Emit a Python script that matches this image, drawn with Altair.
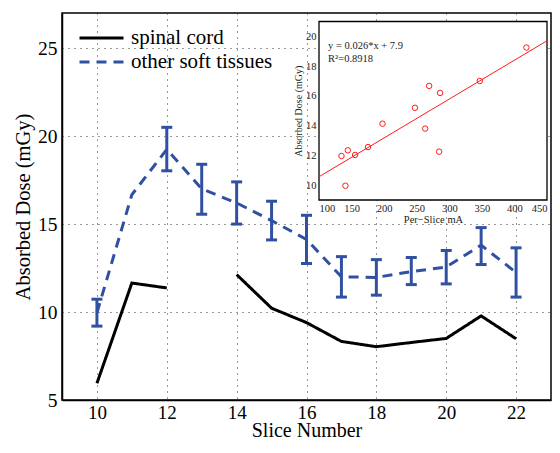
import altair as alt
import pandas as pd

# ---------------- data ----------------
slices = list(range(10, 23))
spinal_cord = [5.95, 11.65, 11.37, None, 12.13, 10.22, 9.40, 8.33, 8.03, 8.27, 8.50, 9.78, 8.48]
soft_tissue = [9.96, 16.67, 19.25, 17.00, 16.20, 15.20, 14.13, 12.00, 11.97, 12.30, 12.56, 13.80, 12.25]

err_slices = [10, 12, 13, 14, 15, 16, 17, 18, 19, 20, 21, 22]
err_low = [9.20, 18.03, 15.56, 15.00, 14.10, 12.76, 10.85, 10.96, 11.56, 11.60, 12.70, 10.85]
err_high = [10.73, 20.50, 18.40, 17.40, 16.30, 15.50, 13.15, 12.98, 13.10, 13.50, 14.80, 13.65]

series_names = ["spinal cord", "other soft tissues"]
series_colors = ["#000000", "#3050a2"]

inset_ma = [134.5, 140.6, 144.2, 155.4, 175.2, 197.5, 247.3, 263.0, 269.1, 284.4, 285.9, 346.8, 418.4]
inset_dose = [11.96, 9.96, 12.34, 12.03, 12.56, 14.13, 15.20, 13.80, 16.67, 12.25, 16.20, 17.00, 19.25]
fit_labels = ["y = 0.026*x + 7.9", "R²=0.8918"]
fit_label_ma = [114, 114]
fit_label_dose = [19.35, 18.45]

x_ticks = [10, 12, 14, 16, 18, 20, 22]
y_ticks = [5, 10, 15, 20, 25]
x_domain = [9, 23]
y_domain = [5, 27]
inset_x_ticks = [100, 150, 200, 250, 300, 350, 400, 450]
inset_y_ticks = [10, 12, 14, 16, 18, 20]
inset_x_domain = [100, 450]
inset_y_domain = [9, 21]

# ---------------- tables ----------------
lines_df = pd.DataFrame(
    {
        "slice": slices * 2,
        "dose": spinal_cord + soft_tissue,
        "series": [series_names[0]] * len(slices) + [series_names[1]] * len(slices),
    }
)
err_df = pd.DataFrame({"slice": err_slices, "lo": err_low, "hi": err_high})
inset_df = pd.DataFrame({"ma": inset_ma, "dose": inset_dose})
frame_df = pd.DataFrame(
    {"x0": [inset_x_domain[0]], "x1": [inset_x_domain[1]], "y0": [inset_y_domain[0]], "y1": [inset_y_domain[1]]}
)
label_df = pd.DataFrame({"ma": fit_label_ma, "dose": fit_label_dose, "txt": fit_labels})

FONT = "Liberation Serif, Times New Roman, serif"
PAD_L, PAD_T, PAD_R, PAD_B = 54, 5, 1, 41
W, H = 489, 387
BLUE = series_colors[1]

# ---------------- main axes ----------------
main_x_axis = alt.Axis(
    values=x_ticks, title="Slice Number", grid=True, gridDash=[1, 5], gridColor="#333",
    gridWidth=1, ticks=False, domainColor="black", domainWidth=1.5,
    labelFont=FONT, labelFontSize=19, labelColor="black", labelPadding=3,
    titleFont=FONT, titleFontSize=20, titleFontWeight="normal", titleColor="black",
    titleBaseline="alphabetic", titleY=36,
)
main_y_axis = alt.Axis(
    values=y_ticks, title="Absorbed Dose (mGy)", grid=True, gridDash=[1, 5], gridColor="#333",
    gridWidth=1, ticks=False, domainColor="black", domainWidth=1.5,
    labelFont=FONT, labelFontSize=19.5, labelColor="black", labelPadding=5,
    titleFont=FONT, titleFontSize=20.5, titleFontWeight="normal", titleColor="black", titlePadding=4,
)
main_xs = alt.Scale(domain=x_domain, nice=False, zero=False)
main_ys = alt.Scale(domain=y_domain, nice=False, zero=False)

legend = alt.Legend(
    orient="none", legendX=16, legendY=15, symbolType="stroke", symbolSize=1936,
    symbolStrokeWidth=3, labelFont=FONT, labelFontSize=21, labelColor="black",
    labelOffset=6, rowPadding=3, clipHeight=20, title=None,
)

lines = alt.Chart(lines_df).mark_line(strokeWidth=3).encode(
    x=alt.X("slice:Q", scale=main_xs, axis=main_x_axis),
    y=alt.Y("dose:Q", scale=main_ys, axis=main_y_axis),
    color=alt.Color("series:N", scale=alt.Scale(domain=series_names, range=series_colors), legend=legend),
    strokeDash=alt.StrokeDash(
        "series:N", scale=alt.Scale(domain=series_names, range=[[1, 0], [10, 7]]), legend=legend
    ),
)

err_rule = alt.Chart(err_df).mark_rule(color=BLUE, strokeWidth=3).encode(
    x=alt.X("slice:Q", scale=main_xs, axis=main_x_axis),
    y=alt.Y("lo:Q", scale=main_ys, axis=main_y_axis),
    y2="hi:Q",
)
cap_lo = alt.Chart(err_df).mark_tick(color=BLUE, orient="horizontal", size=11, thickness=3, opacity=1).encode(
    x=alt.X("slice:Q", scale=main_xs, axis=main_x_axis),
    y=alt.Y("lo:Q", scale=main_ys, axis=main_y_axis),
)
cap_hi = alt.Chart(err_df).mark_tick(color=BLUE, orient="horizontal", size=11, thickness=3, opacity=1).encode(
    x=alt.X("slice:Q", scale=main_xs, axis=main_x_axis),
    y=alt.Y("hi:Q", scale=main_ys, axis=main_y_axis),
)

main = alt.layer(lines, err_rule, cap_lo, cap_hi)

# ---------------- inset ----------------
IX0, IX1 = 257.0, 485.0
IY_BOTTOM, IY_TOP = 187.0, 8.5

inset_x_axis = alt.Axis(
    orient="bottom", offset=-(H - IY_BOTTOM), values=inset_x_ticks, title="Per−Slice mA",
    grid=False, ticks=False, domain=False, zindex=2,
    labelFont=FONT, labelFontSize=10.5, labelColor="#222", labelPadding=3,
    titleFont=FONT, titleFontSize=10.5, titleFontWeight="normal", titleColor="#222", titlePadding=1,
)
inset_y_axis = alt.Axis(
    orient="left", offset=-IX0, values=inset_y_ticks, title="Absorbed Dose (mGy)",
    grid=False, ticks=False, domain=False, zindex=2,
    labelFont=FONT, labelFontSize=10.5, labelColor="#222", labelPadding=3,
    titleFont=FONT, titleFontSize=10, titleFontWeight="normal", titleColor="#222", titlePadding=2,
)
ixs = alt.Scale(domain=inset_x_domain, range=[IX0, IX1], nice=False, zero=False)
iys = alt.Scale(domain=inset_y_domain, range=[IY_BOTTOM, IY_TOP], nice=False, zero=False)

frame = alt.Chart(frame_df).mark_rect(fill="white", stroke="black", strokeWidth=1.3).encode(
    x=alt.X("x0:Q", scale=ixs, axis=inset_x_axis),
    x2="x1:Q",
    y=alt.Y("y0:Q", scale=iys, axis=inset_y_axis),
    y2="y1:Q",
)
fit = alt.Chart(inset_df).transform_regression(
    "ma", "dose", extent=inset_x_domain
).mark_line(color="#ff1a1a", strokeWidth=1).encode(
    x=alt.X("ma:Q", scale=ixs, axis=inset_x_axis),
    y=alt.Y("dose:Q", scale=iys, axis=inset_y_axis),
)
pts = alt.Chart(inset_df).mark_point(
    shape="circle", filled=False, color="#ff1a1a", size=30, strokeWidth=1, opacity=1
).encode(
    x=alt.X("ma:Q", scale=ixs, axis=inset_x_axis),
    y=alt.Y("dose:Q", scale=iys, axis=inset_y_axis),
)
txt = alt.Chart(label_df).mark_text(
    font=FONT, fontSize=10.5, color="#222", align="left", baseline="middle"
).encode(
    x=alt.X("ma:Q", scale=ixs, axis=inset_x_axis),
    y=alt.Y("dose:Q", scale=iys, axis=inset_y_axis),
    text="txt:N",
)

inset = alt.layer(frame, fit, pts, txt)

chart = (
    alt.layer(main, inset)
    .resolve_scale(x="independent", y="independent")
    .properties(
        width=W,
        height=H,
        padding={"left": PAD_L, "top": PAD_T, "right": PAD_R, "bottom": PAD_B},
        autosize=alt.AutoSizeParams(type="none"),
        background="white",
    )
    .configure_view(stroke="black", strokeWidth=1.5)
)

chart.save("out.html", embed_options={"renderer": "svg", "actions": False})
